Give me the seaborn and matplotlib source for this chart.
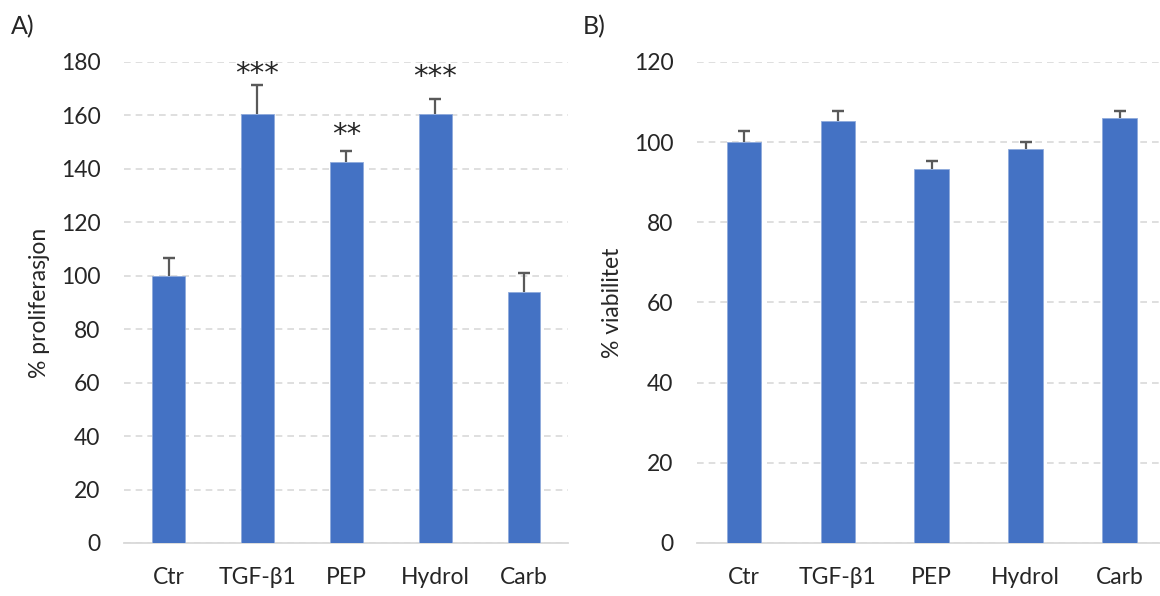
import numpy as np
import pandas as pd
import matplotlib
matplotlib.use("Agg")
import matplotlib.pyplot as plt
import seaborn as sns

# values
groups = ["Ctr", "TGF-β1", "PEP", "Hydrol", "Carb"]
prolif = [100.0, 160.5, 142.5, 160.5, 94.0]
prolif_err = [6.5, 10.8, 4.3, 5.6, 7.0]
prolif_sig = ["", "***", "**", "***", ""]
sig_y = [0, 175.5, 152.8, 174.4, 0]
viab = [100.0, 105.2, 93.2, 98.3, 106.0]
viab_err = [2.8, 2.6, 2.1, 1.7, 1.8]

BAR = "#4472C4"
ERR = "#595959"
GRID = "#D9D9D9"
TXT = "#262626"

sns.set_theme(style="white")
plt.rcParams["font.family"] = ["Lato", "DejaVu Sans"]

fig = plt.figure(figsize=(11.6, 5.96), dpi=100)
ax1 = fig.add_axes([0.107, 0.089, 0.383, 0.807])
ax2 = fig.add_axes([0.601, 0.089, 0.399, 0.807])

df1 = pd.DataFrame({"group": groups, "val": prolif})
df2 = pd.DataFrame({"group": groups, "val": viab})


def style_panel(ax, df, err, ymax, step, ylabel):
    sns.barplot(data=df, x="group", y="val", color=BAR, width=0.37,
                saturation=1, ax=ax, zorder=3, edgecolor="#8FAADC", linewidth=0.6)
    x = np.arange(len(df))
    # upper half only: draw stem + top cap
    ax.errorbar(x, df["val"], yerr=[np.zeros(len(err)), err], fmt="none",
                ecolor=ERR, elinewidth=1.6, capsize=0, zorder=4)
    top = df["val"].to_numpy() + np.array(err)
    ax.errorbar(x, top, yerr=0, fmt="none", ecolor=ERR, elinewidth=0,
                capsize=4, capthick=1.6, zorder=4)
    ax.set_ylim(0, ymax)
    ax.set_yticks(np.arange(0, ymax + 1, step))
    ax.yaxis.grid(True, color=GRID, linestyle=(0, (4, 3)), linewidth=1.2, zorder=0)
    ax.xaxis.grid(False)
    for s in ["top", "right", "left"]:
        ax.spines[s].set_visible(False)
    ax.spines["bottom"].set_color(GRID)
    ax.spines["bottom"].set_linewidth(1.3)
    ax.tick_params(axis="both", length=0, labelsize=16.5, labelcolor=TXT)
    ax.tick_params(axis="y", pad=17)
    ax.tick_params(axis="x", pad=17)
    ax.set_xlabel("")
    ax.set_ylabel(ylabel, fontsize=16.5, color=TXT, labelpad=8)


style_panel(ax1, df1, prolif_err, 180, 20, "% proliferasjon")
ax1.set_xlim(-0.5, 4.5)
style_panel(ax2, df2, viab_err, 120, 20, "% viabilitet")
ax2.set_xlim(-0.5, 4.43)

for i, s in enumerate(prolif_sig):
    if s:
        ax1.text(i, sig_y[i], s, ha="center", va="center", fontsize=21,
                 color=TXT, family="DejaVu Sans")

fig.text(0.009, 0.955, "A)", fontsize=18, color=TXT, va="center")
fig.text(0.502, 0.955, "B)", fontsize=18, color=TXT, va="center")

fig.savefig("out.png", dpi=100)
